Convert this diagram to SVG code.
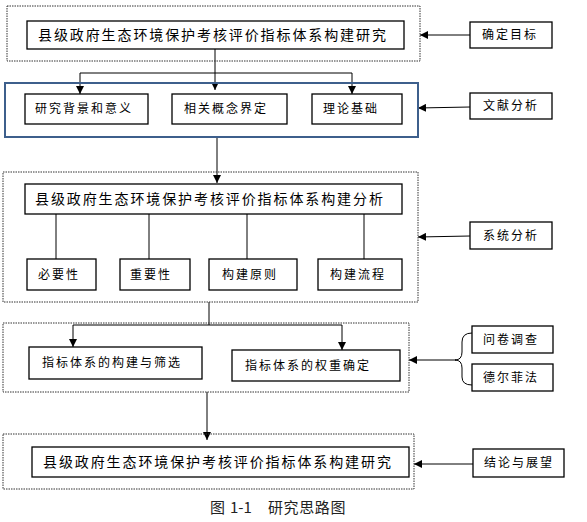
<svg xmlns="http://www.w3.org/2000/svg" width="587" height="522" viewBox="0 0 587 522">
<defs>
<marker id="ah" viewBox="0 0 10 10" refX="10" refY="5" markerWidth="8" markerHeight="8" markerUnits="userSpaceOnUse" orient="auto">
<path d="M0,0 L10,5 L0,10 Z" fill="#000"/>
</marker>
</defs>
<style>
.dot{fill:none;stroke:#333;stroke-width:1;stroke-dasharray:1.5 1}
.blue{fill:none;stroke:#3d5f8c;stroke-width:2}
.box{fill:#fff;stroke:#000;stroke-width:1.3}
.ln{fill:none;stroke:#000;stroke-width:1}
.arr{fill:none;stroke:#000;stroke-width:1;marker-end:url(#ah)}
.t{font-family:"Noto Sans CJK SC","Noto Sans",sans-serif;font-size:12px;letter-spacing:2px;fill:#000}
.tl{font-family:"Noto Sans CJK SC","Noto Sans",sans-serif;font-size:14px;letter-spacing:1.9px;fill:#000}
.cap{font-family:"Noto Sans CJK SC","Noto Sans",sans-serif;font-size:15px;fill:#222}
</style>

<g id="connectors">
<line class="arr" x1="215" y1="49" x2="215" y2="90"/>
<polyline class="ln" points="80,73 352,73"/>
<line class="arr" x1="80" y1="73" x2="80" y2="94"/>
<line class="arr" x1="352" y1="73" x2="352" y2="94"/>
<line class="arr" x1="470" y1="35" x2="420" y2="35"/>
<line class="arr" x1="470" y1="107" x2="418" y2="108"/>
<line class="arr" x1="217" y1="137" x2="217" y2="183"/>
<line class="ln" x1="56" y1="214" x2="56" y2="259"/>
<line class="ln" x1="149" y1="214" x2="149" y2="259"/>
<line class="ln" x1="247" y1="214" x2="247" y2="259"/>
<line class="ln" x1="364" y1="214" x2="364" y2="259"/>
<line class="arr" x1="470" y1="236" x2="418" y2="237"/>
<line class="ln" x1="209" y1="302" x2="209" y2="325"/>
<line class="ln" x1="73" y1="325" x2="342" y2="325"/>
<line class="arr" x1="73" y1="325" x2="73" y2="347"/>
<line class="arr" x1="342" y1="325" x2="342" y2="350"/>
<path class="ln" d="M472,333 Q462,333 462,342 L462,352 Q462,360 455,360 Q462,360 462,368 L462,377 Q462,385 472,385"/>
<line class="arr" x1="456" y1="360" x2="409" y2="360"/>
<line class="arr" x1="207" y1="392" x2="207" y2="440"/>
<line class="arr" x1="473" y1="464" x2="414" y2="464"/>
</g>

<g id="group1"><rect class="dot" x="7" y="6" width="413" height="55"/></g>
<g id="group2"><rect class="blue" x="5" y="83" width="413" height="54"/></g>
<g id="group3"><rect class="dot" x="3" y="172" width="415" height="130"/></g>
<g id="group4"><rect class="dot" x="3" y="323" width="406" height="69"/></g>
<g id="group5"><rect class="dot" x="3" y="434" width="411" height="55"/></g>

<g id="n-title1"><rect class="box" x="27" y="21" width="377" height="28"/><text class="tl" x="38" y="40">县级政府生态环境保护考核评价指标体系构建研究</text></g>
<g id="n-mubiao"><rect class="box" x="470" y="22" width="82" height="26"/><text class="t" x="482" y="39">确定目标</text></g>
<g id="n-beijing"><rect class="box" x="25" y="94" width="123" height="30"/><text class="t" x="35" y="113">研究背景和意义</text></g>
<g id="n-gainian"><rect class="box" x="172" y="94" width="115" height="30"/><text class="t" x="184" y="113">相关概念界定</text></g>
<g id="n-lilun"><rect class="box" x="312" y="94" width="90" height="30"/><text class="t" x="323" y="113">理论基础</text></g>
<g id="n-wenxian"><rect class="box" x="470" y="93" width="82" height="26"/><text class="t" x="483" y="110">文献分析</text></g>
<g id="n-title2"><rect class="box" x="25" y="184" width="377" height="30"/><text class="tl" x="35" y="204">县级政府生态环境保护考核评价指标体系构建分析</text></g>
<g id="n-biyao"><rect class="box" x="27" y="259" width="69" height="31"/><text class="t" x="38" y="279">必要性</text></g>
<g id="n-zhongyao"><rect class="box" x="120" y="259" width="70" height="31"/><text class="t" x="130" y="279">重要性</text></g>
<g id="n-yuanze"><rect class="box" x="209" y="259" width="88" height="31"/><text class="t" x="222" y="279">构建原则</text></g>
<g id="n-liucheng"><rect class="box" x="318" y="259" width="84" height="31"/><text class="t" x="330" y="279">构建流程</text></g>
<g id="n-xitong"><rect class="box" x="470" y="222" width="82" height="27"/><text class="t" x="483" y="240">系统分析</text></g>
<g id="n-shaixuan"><rect class="box" x="29" y="347" width="173" height="32"/><text class="t" x="42" y="367">指标体系的构建与筛选</text></g>
<g id="n-quanzhong"><rect class="box" x="232" y="350" width="168" height="31"/><text class="t" x="245" y="370">指标体系的权重确定</text></g>
<g id="n-wenjuan"><rect class="box" x="472" y="326" width="81" height="27"/><text class="t" x="483" y="344">问卷调查</text></g>
<g id="n-delfei"><rect class="box" x="472" y="364" width="81" height="27"/><text class="t" x="483" y="382">德尔菲法</text></g>
<g id="n-title3"><rect class="box" x="32" y="447" width="377" height="30"/><text class="tl" x="43" y="467">县级政府生态环境保护考核评价指标体系构建研究</text></g>
<g id="n-jielun"><rect class="box" x="473" y="449" width="91" height="28"/><text class="t" x="484" y="467">结论与展望</text></g>
<g id="caption"><text class="cap" y="513"><tspan x="210">图</tspan><tspan x="230">1-1</tspan><tspan x="268" letter-spacing="0.6">研究思路图</tspan></text></g>
</svg>
